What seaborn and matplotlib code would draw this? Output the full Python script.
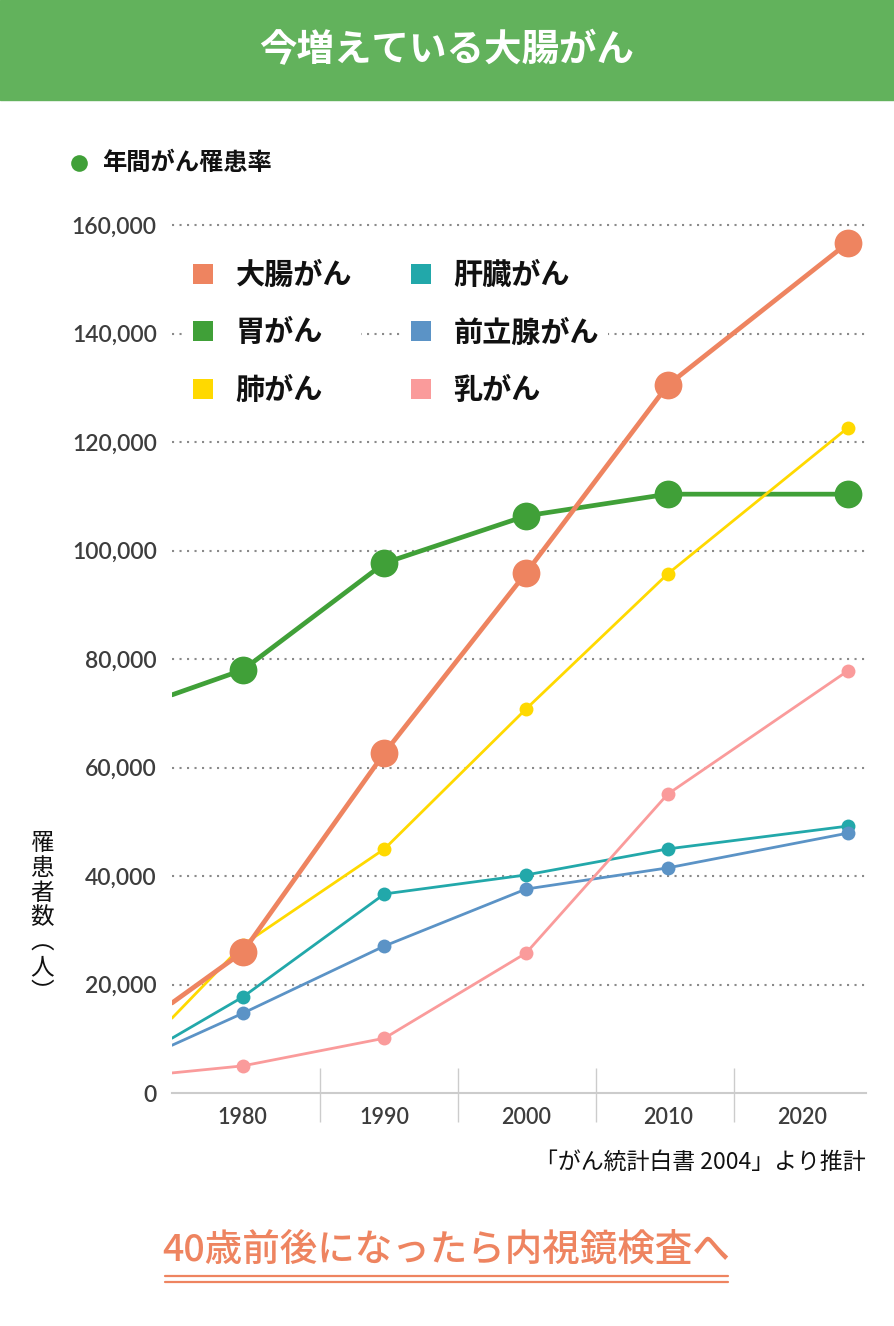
import matplotlib.pyplot as plt
import seaborn as sns
import pandas as pd
from matplotlib.lines import Line2D
from matplotlib.patches import Rectangle

sns.set_theme(style="white")
plt.rcParams['font.family'] = ['Noto Sans CJK JP', 'DejaVu Sans']

# x positions of the points (the last one sits a bit right of 2020 in the original)
x_pos = [1975, 1980, 1990, 2000, 2010, 2022.7]

# 罹患者数
colon = [16600, 26000, 62700, 95900, 130500, 156700]
stomach = [73400, 78000, 97700, 106400, 110400, 110400]
lung = [13800, 27300, 45000, 70800, 95700, 122600]
liver = [10100, 17700, 36700, 40200, 45000, 49200]
prostate = [8800, 14700, 27100, 37600, 41500, 47900]
breast = [3700, 5000, 10100, 25800, 55100, 77800]

names = ['大腸がん', '胃がん', '肺がん', '肝臓がん', '前立腺がん', '乳がん']
colors = ['#EE8460', '#40A038', '#FFD900', '#22A8AA', '#5B93C6', '#FA9B9B']

year_ticks = [1980, 1990, 2000, 2010, 2020]
y_ticks = [0, 20000, 40000, 60000, 80000, 100000, 120000, 140000, 160000]

W, H = 894, 1326
def fx(px): return px / W
def fy(py): return 1 - py / H

fig = plt.figure(figsize=(W / 100, H / 100), dpi=100)

# header band
fig.patches.append(Rectangle((0, fy(100)), 1, 100 / H, transform=fig.transFigure,
                             color='#62B25C', zorder=0))
fig.text(0.5, fy(50), '今増えている大腸がん', color='white', fontsize=27,
         fontweight='bold', ha='center', va='center')

ax = fig.add_axes([fx(172), fy(1093), fx(866) - fx(172), fy(198) - fy(1093)])

# (values, color, linewidth, markersize, zorder)
series = [
    (stomach, colors[1], 3.4, 20, 3),
    (lung, colors[2], 2.0, 10, 4),
    (colon, colors[0], 3.4, 20, 5),
    (liver, colors[3], 2.0, 10, 6),
    (prostate, colors[4], 2.0, 10, 7),
    (breast, colors[5], 2.0, 10, 8),
]
for vals, c, lw, ms, z in series:
    df = pd.DataFrame({'x': x_pos, 'y': vals})
    sns.lineplot(data=df, x='x', y='y', color=c, linewidth=lw, marker='o',
                 markersize=ms, markevery=[1, 2, 3, 4, 5], markeredgewidth=0,
                 ax=ax, zorder=z)

ax.set_xlim(1975, 2024)
ax.set_ylim(0, 165000)
ax.hlines(y_ticks[1:], 1975, 2024, colors='#8a8a8a', linestyles=[(0, (1, 2.6))],
          linewidth=1.5, zorder=0.5)
ax.vlines([1985.45, 1995.2, 2004.95, 2014.7], -5350, 4600, colors='#cccccc',
          linewidth=1, clip_on=False)

for s in ['top', 'right', 'left']:
    ax.spines[s].set_visible(False)
ax.spines['bottom'].set_color('#cccccc')
ax.spines['bottom'].set_linewidth(1.5)

ax.set_yticks(y_ticks, [f'{v:,}' for v in y_ticks], fontfamily='Lato',
              fontsize=16.5, fontweight='semibold', color='#3d3d3d')
ax.set_xticks([1980, 1990, 2000, 2010, 2019.5], [str(v) for v in year_ticks],
              fontfamily='Lato', fontsize=15.5, fontweight='semibold', color='#3d3d3d')
ax.tick_params(axis='y', length=0, pad=11)
ax.tick_params(axis='x', length=0, pad=10)
ax.set_xlabel('')
ax.set_ylabel('')

# legend in two columns, each with white background
handles = [Line2D([], [], marker='s', linestyle='none', markersize=15,
                  markeredgewidth=0, color=c) for c in colors]
leg_kw = dict(loc='upper left', bbox_transform=fig.transFigure, frameon=True,
              facecolor='white', edgecolor='none', framealpha=1, fancybox=False,
              prop=dict(size=21, weight='bold',
                        family=['Noto Sans CJK JP', 'DejaVu Sans']),
              handlelength=0.8, handletextpad=0.7, labelspacing=0.95,
              borderpad=0.3, borderaxespad=0)
leg1 = ax.legend(handles[:3], names[:3], bbox_to_anchor=(fx(183), fy(251)), **leg_kw)
ax.add_artist(leg1)
leg2 = ax.legend(handles[3:], names[3:], bbox_to_anchor=(fx(401), fy(251)), **leg_kw)
for leg in (leg1, leg2):
    leg.set_zorder(10)
    for t in leg.get_texts():
        t.set_color('#111111')

# top-left key
fig.add_artist(Line2D([fx(79)], [fy(163)], marker='o', markersize=12,
                      markeredgewidth=0, color=colors[1], transform=fig.transFigure))
fig.text(fx(102), fy(163), '年間がん罹患率', fontsize=17.5, fontweight='bold',
         color='#111111', va='center', ha='left')

# vertical y label
fig.text(fx(42), fy(918), '罹\n患\n者\n数\n︵\n人\n︶', fontsize=17,
         color='#111111', ha='center', va='center', linespacing=1.1)

fig.text(fx(866), fy(1162), '「がん統計白書 2004」より推計', fontsize=16.5,
         color='#111111', ha='right', va='center')

fig.text(fx(446.5), fy(1250), '40歳前後になったら内視鏡検査へ', fontsize=27,
         fontweight='medium', color='#EE8460', ha='center', va='center')
for yy in (1276, 1282):
    fig.add_artist(Line2D([fx(165), fx(728)], [fy(yy), fy(yy)], color='#EE8460',
                          linewidth=1.6, transform=fig.transFigure))

fig.savefig('out.png', dpi=100)
